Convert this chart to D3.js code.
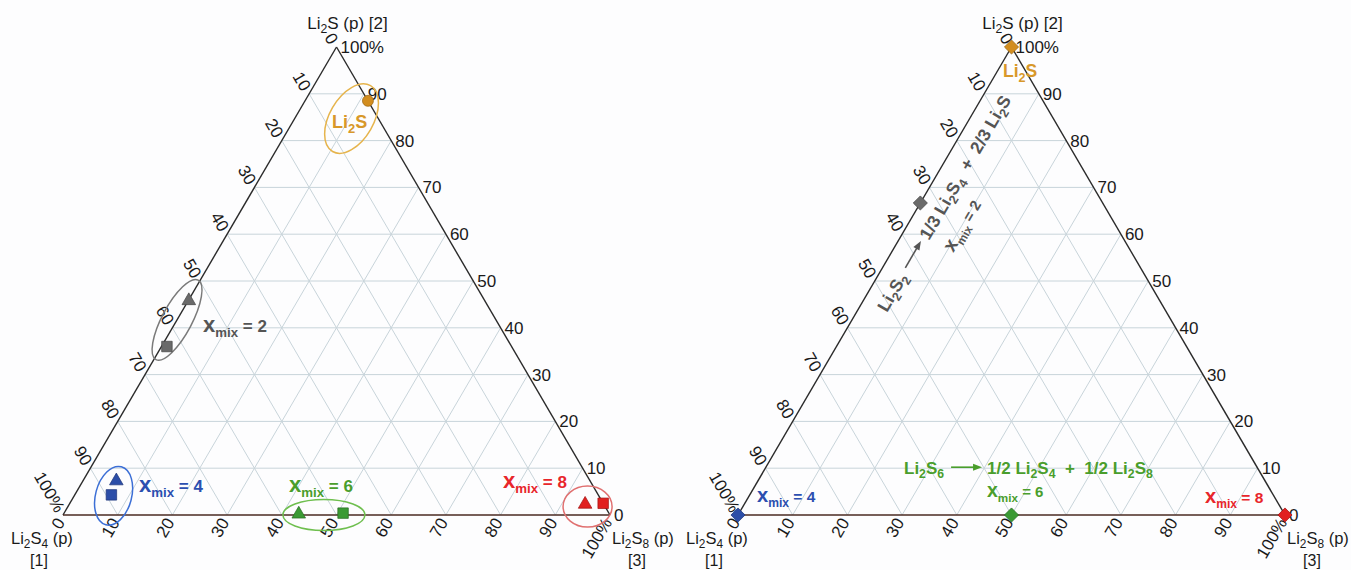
<!DOCTYPE html>
<html><head><meta charset="utf-8">
<script src="https://cdn.jsdelivr.net/npm/d3@7"></script>
<style>
body{margin:0;background:#fdfdfe}
svg{display:block}
text{font-family:"Liberation Sans",Arial,Helvetica,sans-serif}
</style>
</head><body>
<svg id="c" width="1351" height="570"></svg>
<script>
// ---------- data ----------
const components = ["Li2S4 (p)", "Li2S (p)", "Li2S8 (p)"];
const tickValues = [0, 10, 20, 30, 40, 50, 60, 70, 80, 90, 100];
const tickLabels = ["0", "10", "20", "30", "40", "50", "60", "70", "80", "90", "100%"];
const gridValues = [10, 20, 30, 40, 50, 60, 70, 80, 90];

// left panel: measured samples (fractions)
const leftGroups = ["Li2S", "x2", "x2", "x4", "x4", "x6", "x6", "x8", "x8"];
const leftShapes = ["circle", "triangle", "square", "triangle", "square", "triangle", "square", "triangle", "square"];
const leftLi2S4 = [0.000, 0.540, 0.630, 0.865, 0.890, 0.567, 0.486, 0.033, 0.000];
const leftLi2S  = [0.885, 0.460, 0.360, 0.075, 0.043, 0.004, 0.004, 0.025, 0.025];
const leftLi2S8 = [0.115, 0.000, 0.010, 0.060, 0.067, 0.429, 0.510, 0.942, 0.975];

// right panel: theoretical compositions
const rightGroups = ["Li2S", "x2", "x4", "x6", "x8"];
const rightLi2S4 = [0, 1/3, 1, 0.5, 0];
const rightLi2S  = [1, 2/3, 0, 0, 0];
const rightLi2S8 = [0, 0, 0, 0.5, 1];

// ellipse centres (fractions) around left-panel groups
const ellGroups = ["Li2S", "x2", "x4", "x6", "x8"];
const ellLi2S4 = [0.049, 0.583, 0.887, 0.523, 0.032];
const ellLi2S  = [0.847, 0.417, 0.041, 0.000, 0.018];
const ellLi2S8 = [0.104, 0.000, 0.072, 0.477, 0.950];

// ---------- styles ----------
const markColor = {Li2S:"#d28d1f", x2:"#6a6a6a", x4:"#2c4ea8", x6:"#3b9a34", x8:"#e1201f"};
const markStroke = {Li2S:"#9a6410", x2:"#444", x4:"#1c3478", x6:"#256a20", x8:"#a01010"};
const textColor = {Li2S:"#d8982a", x2:"#555555", x4:"#2b4fb0", x6:"#4a9e2c", x8:"#e8262b"};
const ellColor = {Li2S:"#e6b44c", x2:"#7a7a7a", x4:"#3c6fd6", x6:"#6fbf4f", x8:"#e07070"};
const ellGeom = {Li2S:[38,22,-60], x2:[45,15,-62], x4:[30,18,-75], x6:[41,15.5,0], x8:[24.5,20.5,0]};

const W = 547, H = 468;
const svg = d3.select("#c");
svg.append("rect").attr("width",1351).attr("height",570).attr("fill","#fdfdfe");

function rich(g, x, y, parts, fs, fill, weight, anchor) {
  const t = g.append("text").attr("x", x).attr("y", y).attr("fill", fill)
    .attr("font-weight", weight || "normal").attr("text-anchor", anchor || "start")
    .style("white-space", "pre");
  let cur = 0;
  parts.forEach(([s, k]) => {
    let size = fs, base = 0;
    if (k === "s") { size = fs * 0.72; base = fs * 0.26; }
    if (k === "m") { size = fs * 0.78; base = fs * 0.32; }
    if (k === "x") { size = fs * 1.3; }
    t.append("tspan").attr("font-size", size).attr("dy", base - cur).text(s);
    cur = base;
  });
  return t;
}

function makePanel(x0, y0) {
  const xs = d3.scaleLinear().domain([0, 1]).range([x0, x0 + W]);
  const ys = d3.scaleLinear().domain([0, 1]).range([y0, y0 - H]);
  const pos = (a, b, c) => { const s = a + b + c; b /= s; c /= s; return [xs(c + b / 2), ys(b)]; };
  const g = svg.append("g");
  // grid
  const grid = g.append("g").attr("stroke", "#c8d4da").attr("stroke-width", 1).attr("fill", "none");
  gridValues.forEach(v0 => {
    const v = v0 / 100;
    [[pos(1 - v, v, 0), pos(0, v, 1 - v)], [pos(1 - v, 0, v), pos(0, 1 - v, v)], [pos(v, 1 - v, 0), pos(v, 0, 1 - v)]]
      .forEach(([p, q]) => grid.append("line").attr("x1", p[0]).attr("y1", p[1]).attr("x2", q[0]).attr("y2", q[1]));
  });
  // edges
  const A = pos(1, 0, 0), B = pos(0, 1, 0), C = pos(0, 0, 1);
  g.append("line").attr("x1", A[0]).attr("y1", A[1]).attr("x2", B[0]).attr("y2", B[1]).attr("stroke", "#2a2a2a").attr("stroke-width", 1.4);
  g.append("line").attr("x1", B[0]).attr("y1", B[1]).attr("x2", C[0]).attr("y2", C[1]).attr("stroke", "#2a2a2a").attr("stroke-width", 1.4);
  g.append("line").attr("x1", A[0]).attr("y1", A[1]).attr("x2", C[0]).attr("y2", C[1]).attr("stroke", "#4a2a22").attr("stroke-width", 1.6);
  // tick labels
  const len = Math.hypot(W / 2, H), ux = (W / 2) / len, uy = H / len, ang = Math.atan2(uy, ux) * 180 / Math.PI;
  const gap = 5, tg = g.append("g").attr("font-size", 17).attr("fill", "#1a1a1a");
  tickValues.forEach((v0, i) => {
    const v = v0 / 100;
    // Li2S4 axis (left edge)
    let p = pos(v, 1 - v, 0);
    tg.append("text").attr("text-anchor", "end").attr("dy", "0.35em")
      .attr("transform", `translate(${p[0] - ux * gap},${p[1] - uy * gap}) rotate(${ang})`).text(tickLabels[i]);
    // Li2S8 axis (bottom edge)
    p = pos(1 - v, 0, v);
    tg.append("text").attr("text-anchor", "end").attr("dy", "0.35em")
      .attr("transform", `translate(${p[0] - ux * gap},${p[1] + uy * gap}) rotate(${-ang})`).text(tickLabels[i]);
    // Li2S axis (right edge)
    p = pos(0, v, 1 - v);
    tg.append("text").attr("text-anchor", "start").attr("dy", "0.35em")
      .attr("x", p[0] + 4).attr("y", p[1]).text(tickLabels[i]);
  });
  // axis titles
  rich(g, B[0] + 11, B[1] - 18, [["Li", "n"], ["2", "s"], ["S (p) [2]", "n"]], 17, "#1a1a1a", "normal", "middle");
  rich(g, A[0] - 52, A[1] + 29, [["Li", "n"], ["2", "s"], ["S", "n"], ["4", "s"], [" (p)", "n"]], 16.5, "#1a1a1a");
  rich(g, A[0] - 24, A[1] + 51, [["[1]", "n"]], 16, "#1a1a1a", "normal", "middle");
  rich(g, C[0] + 2, C[1] + 29, [["Li", "n"], ["2", "s"], ["S", "n"], ["8", "s"], [" (p)", "n"]], 16.5, "#1a1a1a");
  rich(g, C[0] + 27, C[1] + 51, [["[3]", "n"]], 16, "#1a1a1a", "normal", "middle");
  return {g, pos, x0, y0};
}

const symType = {circle: d3.symbolCircle, triangle: d3.symbolTriangle, square: d3.symbolSquare};
const symSize = {circle: 95, triangle: 80, square: 110};

function xmix(g, x, y, n, fs, color) {
  rich(g, x, y, [["x", "x"], ["mix", "m"], [" = " + n, "n"]], fs, color, "bold");
}

function arrow(g, x1, x2, y, color) {
  g.append("line").attr("x1", x1).attr("y1", y).attr("x2", x2 - 7).attr("y2", y).attr("stroke", color).attr("stroke-width", 1.6);
  g.append("path").attr("d", `M${x2},${y}L${x2 - 9},${y - 3.5}L${x2 - 9},${y + 3.5}Z`).attr("fill", color);
}

// ---------- left panel ----------
const L = makePanel(63, 515);
ellGroups.forEach((grp, i) => {
  const p = L.pos(ellLi2S4[i], ellLi2S[i], ellLi2S8[i]);
  const [rx, ry, rot] = ellGeom[grp];
  L.g.append("ellipse").attr("rx", rx).attr("ry", ry)
    .attr("transform", `translate(${p[0]},${p[1]}) rotate(${rot})`)
    .attr("fill", "none").attr("stroke", ellColor[grp]).attr("stroke-width", 1.5);
});
leftGroups.forEach((grp, i) => {
  const p = L.pos(leftLi2S4[i], leftLi2S[i], leftLi2S8[i]);
  L.g.append("path").attr("d", d3.symbol().type(symType[leftShapes[i]]).size(symSize[leftShapes[i]])())
    .attr("transform", `translate(${p[0]},${p[1] + (leftShapes[i] === "triangle" ? 1 : 0)})`)
    .attr("fill", markColor[grp]).attr("stroke", markStroke[grp]).attr("stroke-width", 0.7);
});
rich(L.g, L.x0 + 269, L.y0 - 387, [["Li", "n"], ["2", "s"], ["S", "n"]], 18, textColor.Li2S, "bold");
xmix(L.g, L.x0 + 140, L.y0 - 183, 2, 17, textColor.x2);
xmix(L.g, L.x0 + 76, L.y0 - 23, 4, 17, textColor.x4);
xmix(L.g, L.x0 + 226, L.y0 - 23, 6, 17, textColor.x6);
xmix(L.g, L.x0 + 440, L.y0 - 27, 8, 17, textColor.x8);

// ---------- right panel ----------
const R = makePanel(738, 515);
rightGroups.forEach((grp, i) => {
  const p = R.pos(rightLi2S4[i], rightLi2S[i], rightLi2S8[i]);
  R.g.append("path").attr("d", d3.symbol().type(d3.symbolSquare).size(100)())
    .attr("transform", `translate(${p[0]},${p[1]}) rotate(45)`)
    .attr("fill", markColor[grp]).attr("stroke", markStroke[grp]).attr("stroke-width", 0.7);
});
rich(R.g, R.x0 + 265, R.y0 - 438, [["Li", "n"], ["2", "s"], ["S", "n"]], 17.5, textColor.Li2S, "bold");
xmix(R.g, R.x0 + 19, R.y0 - 13, 4, 15.5, textColor.x4);
xmix(R.g, R.x0 + 249, R.y0 - 18, 6, 15, textColor.x6);
xmix(R.g, R.x0 + 467, R.y0 - 12, 8, 15.5, textColor.x8);

// green reaction (horizontal)
{
  const fs = 17, col = textColor.x6;
  const rg = R.g.append("g").attr("transform", `translate(${R.x0 + 166},${R.y0 - 41})`);
  const t1 = rich(rg, 0, 0, [["Li", "n"], ["2", "s"], ["S", "n"], ["6", "s"]], fs, col, "bold");
  const l1 = t1.node().getComputedTextLength();
  arrow(rg, l1 + 7, l1 + 38, -fs * 0.4, col);
  rich(rg, l1 + 43, 0, [["1/2 Li", "n"], ["2", "s"], ["S", "n"], ["4", "s"], ["  +  1/2 Li", "n"], ["2", "s"], ["S", "n"], ["8", "s"]], fs, col, "bold");
}
// grey reaction (rotated along left edge)
{
  const fs = 17.5, col = textColor.x2;
  const ang = -Math.atan2(H, W / 2) * 180 / Math.PI;
  const rg = R.g.append("g").attr("transform", `translate(${R.x0 + 149},${R.y0 - 202}) rotate(${ang})`);
  const t1 = rich(rg, 0, 0, [["Li", "n"], ["2", "s"], ["S", "n"], ["2", "s"]], fs, col, "bold");
  const l1 = t1.node().getComputedTextLength();
  arrow(rg, l1 + 7, l1 + 38, -fs * 0.4, col);
  rich(rg, l1 + 42, 0, [["1/3 Li", "n"], ["2", "s"], ["S", "n"], ["4", "s"], ["  +  2/3 Li", "n"], ["2", "s"], ["S", "n"]], fs, col, "bold");
  xmix(rg, l1 + 44, 27, 2, 15, col);
}
</script>
</body></html>
